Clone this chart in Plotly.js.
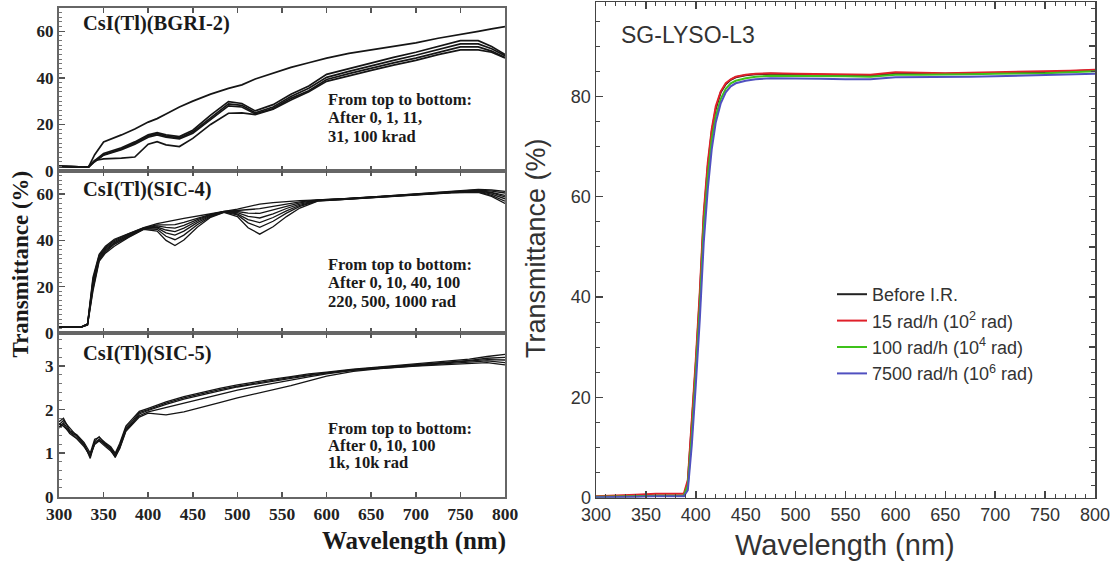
<!DOCTYPE html>
<html>
<head>
<meta charset="utf-8">
<script src="https://cdn.plot.ly/plotly-3.0.1.min.js"></script>
<style>
html,body{margin:0;padding:0;background:#fff;}
#chart{width:1112px;height:561px;}
</style>
</head>
<body>
<div id="chart"></div>
<script>
// ---------------- DATA ----------------
// Panel 1: CsI(Tl)(BGRI-2), doses in krad
const wlBGRI = [300, 320, 333, 340, 350, 370, 385, 400, 410, 420, 435, 450, 470, 490, 505, 520, 540, 560, 580, 600, 625, 650, 675, 700, 725, 750, 770, 785, 800];
const bgri_0krad   = [2.0, 1.8, 1.7, 7.0, 12.5, 15.5, 18.0, 21.0, 22.5, 24.5, 27.5, 30.0, 33.0, 35.5, 37.0, 39.5, 42.0, 44.5, 46.5, 48.5, 50.5, 52.0, 53.5, 55.0, 57.0, 58.5, 60.0, 61.0, 62.0];
const bgri_1krad   = [2.0, 1.8, 1.7, 4.5, 7.5, 10.0, 12.5, 15.5, 16.5, 15.5, 14.8, 17.5, 24.0, 29.8, 29.0, 25.8, 28.5, 33.0, 36.5, 41.5, 44.0, 46.5, 48.8, 51.0, 53.5, 56.0, 56.0, 53.5, 50.0];
const bgri_11krad  = [2.0, 1.8, 1.7, 4.2, 7.0, 9.5, 12.0, 15.0, 16.0, 15.0, 14.2, 16.8, 23.0, 28.8, 28.2, 25.0, 27.5, 32.0, 35.5, 40.2, 42.8, 45.3, 47.5, 49.7, 52.2, 54.6, 54.6, 52.5, 49.5];
const bgri_31krad  = [2.0, 1.8, 1.7, 4.0, 6.8, 9.2, 11.5, 14.5, 15.5, 14.5, 13.8, 16.2, 22.3, 28.0, 27.5, 24.5, 26.8, 31.2, 34.5, 39.3, 41.8, 44.2, 46.4, 48.5, 51.0, 53.3, 53.3, 51.5, 48.8];
const bgri_100krad = [2.0, 1.8, 1.7, 4.5, 5.2, 5.5, 6.0, 11.5, 12.6, 11.2, 10.5, 14.0, 20.0, 24.8, 25.0, 24.2, 26.5, 30.5, 34.0, 38.5, 41.0, 43.2, 45.5, 47.5, 50.0, 52.0, 52.0, 51.0, 48.5];

// Panel 2: CsI(Tl)(SIC-4), doses in rad
const wlSIC4 = [300, 325, 332, 338, 345, 352, 362, 378, 395, 410, 420, 430, 440, 455, 470, 485, 500, 512, 525, 540, 555, 570, 590, 620, 660, 700, 740, 770, 785, 800];
const sic4_0rad    = [2.7, 2.7, 4.0, 24.0, 34.0, 37.5, 40.5, 43.0, 45.5, 47.3, 48.2, 48.8, 49.5, 50.6, 51.6, 52.5, 53.5, 54.6, 55.7, 56.3, 56.8, 57.2, 57.5, 58.0, 59.0, 60.0, 61.0, 62.0, 61.8, 61.2];
const sic4_10rad   = [2.7, 2.7, 4.0, 23.0, 33.5, 37.0, 40.0, 42.8, 45.4, 46.7, 46.7, 46.8, 47.8, 49.7, 51.3, 52.5, 53.0, 53.2, 53.7, 54.7, 55.8, 56.7, 57.5, 58.0, 59.0, 60.0, 61.0, 61.8, 61.3, 60.5];
const sic4_40rad   = [2.6, 2.6, 3.8, 22.0, 33.0, 36.5, 39.5, 42.5, 45.3, 46.3, 45.6, 45.3, 46.5, 49.0, 51.1, 52.4, 52.5, 51.8, 51.7, 53.1, 54.8, 56.2, 57.4, 57.9, 58.9, 59.9, 60.9, 61.6, 60.8, 59.5];
const sic4_100rad  = [2.6, 2.6, 3.8, 21.0, 32.5, 36.0, 39.0, 42.2, 45.2, 45.8, 44.5, 43.8, 45.3, 48.4, 50.9, 52.4, 52.0, 50.4, 49.7, 51.5, 53.8, 55.7, 57.3, 57.9, 58.9, 59.9, 60.8, 61.4, 60.5, 58.8];
const sic4_220rad  = [2.6, 2.6, 3.6, 20.0, 32.0, 35.5, 38.8, 42.0, 45.1, 45.4, 43.3, 42.3, 44.0, 47.7, 50.6, 52.3, 51.5, 49.0, 47.7, 49.9, 52.8, 55.2, 57.2, 57.8, 58.8, 59.8, 60.8, 61.2, 60.0, 58.0];
const sic4_500rad  = [2.5, 2.5, 3.5, 19.0, 31.5, 35.0, 38.3, 41.7, 45.0, 44.8, 41.8, 40.3, 42.3, 46.8, 50.3, 52.2, 51.0, 47.6, 45.7, 48.3, 51.8, 54.7, 57.1, 57.8, 58.8, 59.8, 60.7, 61.0, 59.5, 57.0];
const sic4_1000rad = [2.5, 2.5, 3.4, 18.0, 31.0, 34.5, 37.5, 41.3, 44.8, 44.0, 40.0, 37.8, 40.2, 45.7, 50.0, 52.1, 50.3, 45.5, 42.7, 45.9, 50.3, 54.0, 57.0, 57.7, 58.7, 59.7, 60.6, 60.8, 59.0, 56.0];

// Panel 3: CsI(Tl)(SIC-5), doses in rad
const wlSIC5 = [300, 305, 312, 320, 328, 335, 340, 345, 352, 358, 363, 368, 375, 383, 390, 400, 420, 440, 460, 480, 500, 520, 540, 560, 580, 600, 630, 660, 700, 730, 760, 780, 800];
const sic5_0rad   = [1.72, 1.80, 1.52, 1.42, 1.25, 1.00, 1.32, 1.36, 1.24, 1.15, 1.00, 1.22, 1.62, 1.80, 1.96, 2.03, 2.18, 2.30, 2.40, 2.49, 2.57, 2.64, 2.70, 2.76, 2.82, 2.86, 2.93, 2.98, 3.05, 3.10, 3.16, 3.22, 3.27];
const sic5_10rad  = [1.65, 1.75, 1.58, 1.38, 1.20, 0.92, 1.28, 1.38, 1.20, 1.10, 0.95, 1.18, 1.58, 1.76, 1.93, 2.00, 2.15, 2.27, 2.37, 2.46, 2.54, 2.61, 2.68, 2.74, 2.80, 2.85, 2.92, 2.97, 3.03, 3.08, 3.13, 3.18, 3.20];
const sic5_100rad = [1.60, 1.70, 1.50, 1.35, 1.18, 0.95, 1.22, 1.30, 1.22, 1.12, 0.98, 1.15, 1.55, 1.72, 1.90, 1.98, 2.12, 2.24, 2.34, 2.43, 2.52, 2.59, 2.66, 2.72, 2.78, 2.84, 2.91, 2.96, 3.02, 3.06, 3.11, 3.15, 3.14];
const sic5_1krad  = [1.68, 1.62, 1.48, 1.40, 1.22, 0.88, 1.25, 1.32, 1.18, 1.08, 0.90, 1.12, 1.52, 1.70, 1.86, 1.95, 2.05, 2.15, 2.26, 2.36, 2.45, 2.53, 2.61, 2.68, 2.75, 2.82, 2.90, 2.95, 3.01, 3.05, 3.09, 3.12, 3.08];
const sic5_10krad = [1.58, 1.66, 1.45, 1.33, 1.15, 0.94, 1.20, 1.28, 1.15, 1.05, 0.92, 1.10, 1.50, 1.68, 1.83, 1.92, 1.88, 1.95, 2.05, 2.16, 2.27, 2.36, 2.45, 2.55, 2.66, 2.77, 2.88, 2.94, 3.00, 3.03, 3.06, 3.08, 3.03];

// Panel 4: SG-LYSO-L3
const wlLYSO = [300, 320, 340, 360, 380, 388, 392, 396, 400, 404, 408, 412, 416, 420, 425, 430, 435, 440, 450, 460, 475, 500, 525, 550, 575, 600, 625, 650, 675, 700, 725, 750, 775, 800];
const lyso_before = [0.2, 0.2, 0.3, 0.4, 0.4, 0.4, 3.0, 14.0, 26.5, 40.0, 56.0, 66.0, 73.0, 77.5, 80.8, 82.4, 83.3, 83.8, 84.2, 84.4, 84.5, 84.4, 84.3, 84.2, 84.1, 84.6, 84.5, 84.5, 84.6, 84.6, 84.7, 84.8, 85.0, 85.2];
const lyso_15radh = [0.3, 0.4, 0.6, 0.8, 0.8, 0.8, 3.5, 15.0, 27.5, 41.0, 57.0, 66.8, 73.5, 78.0, 81.0, 82.6, 83.4, 83.9, 84.3, 84.5, 84.6, 84.5, 84.4, 84.3, 84.3, 84.8, 84.7, 84.6, 84.7, 84.8, 84.8, 84.9, 85.1, 85.3];
const lyso_100radh = [0.2, 0.2, 0.3, 0.4, 0.4, 0.4, 2.5, 12.5, 25.0, 38.0, 54.0, 64.0, 71.5, 76.0, 79.5, 81.5, 82.6, 83.1, 83.6, 83.9, 84.1, 84.1, 84.0, 84.0, 83.9, 84.3, 84.3, 84.3, 84.4, 84.5, 84.5, 84.6, 84.8, 85.0];
const lyso_7500radh = [0.1, 0.1, 0.2, 0.3, 0.3, 0.3, 1.5, 10.5, 22.5, 35.5, 51.0, 61.5, 69.5, 74.8, 78.6, 80.8, 82.0, 82.6, 83.1, 83.4, 83.6, 83.6, 83.5, 83.4, 83.4, 83.8, 83.8, 83.8, 83.9, 84.0, 84.1, 84.2, 84.3, 84.5];

const lysoNames = ['Before I.R.', '15 rad/h (10<sup>2</sup> rad)', '100 rad/h (10<sup>4</sup> rad)', '7500 rad/h (10<sup>6</sup> rad)'];
const lysoColors = ['#222222', '#e0202a', '#3ec21a', '#5050c0'];

const panelTitles = ['CsI(Tl)(BGRI-2)', 'CsI(Tl)(SIC-4)', 'CsI(Tl)(SIC-5)'];
const noteLines = [
  ['From top to bottom:', 'After 0, 1, 11,', '31, 100 krad'],
  ['From top to bottom:', 'After 0, 10, 40, 100', '220, 500, 1000 rad'],
  ['From top to bottom:', 'After 0, 10, 100', '1k, 10k rad']
];

// ---------------- TRACES ----------------
const SERIF = 'Liberation Serif, Times New Roman, serif';
const SANS = 'Liberation Sans, Arial, sans-serif';
const traces = [];
function addLeft(x, ys, xa, ya, w) {
  ys.forEach(y => traces.push({x: x, y: y, xaxis: xa, yaxis: ya, type: 'scatter', mode: 'lines',
    line: {color: '#151515', width: w}, showlegend: false, hoverinfo: 'skip'}));
}
addLeft(wlBGRI, [bgri_0krad, bgri_1krad, bgri_11krad, bgri_31krad, bgri_100krad], 'x', 'y', 1.7);
addLeft(wlSIC4, [sic4_0rad, sic4_10rad, sic4_40rad, sic4_100rad, sic4_220rad, sic4_500rad, sic4_1000rad], 'x2', 'y2', 1.3);
addLeft(wlSIC5, [sic5_0rad, sic5_10rad, sic5_100rad, sic5_1krad, sic5_10krad], 'x3', 'y3', 1.3);

[lyso_before, lyso_15radh, lyso_100radh, lyso_7500radh].forEach((y, i) => traces.push({
  x: wlLYSO, y: y, xaxis: 'x4', yaxis: 'y4', type: 'scatter', mode: 'lines',
  name: lysoNames[i], line: {color: lysoColors[i], width: 2}, showlegend: true
}));
// right-side tick axis carrier
traces.push({x: [300], y: [0], xaxis: 'x4', yaxis: 'y5', mode: 'markers', marker: {opacity: 0}, showlegend: false, hoverinfo: 'skip'});

// ---------------- LAYOUT ----------------
const W = 1112, H = 561;
const px = v => v / W, py = v => 1 - v / H;
const leftDom = [px(59), px(505)];

function leftX(anchor, labels) {
  return {domain: leftDom, anchor: anchor, range: [300, 800], dtick: 50, tick0: 300,
    ticks: 'inside', ticklen: 5, tickwidth: 1.5, tickcolor: '#555', showline: true, linecolor: '#666', linewidth: 2,
    mirror: 'ticks', showgrid: false, zeroline: false, showticklabels: labels,
    tickfont: {family: SERIF, size: 17.5, color: '#222', weight: 'bold'}};
}
function leftY(anchor, dom, range, dtick, minor) {
  return {domain: dom, anchor: anchor, range: range, dtick: dtick, tick0: 0,
    ticks: 'inside', ticklen: 6, tickwidth: 1.5, tickcolor: '#555', showline: true, linecolor: '#666', linewidth: 2,
    mirror: true, showgrid: false, zeroline: false,
    minor: {dtick: minor, ticks: 'inside', ticklen: 3, tickcolor: '#777', tickwidth: 1},
    tickfont: {family: SERIF, size: 17, color: '#222', weight: 'bold'}};
}

const annotations = [];
const titleY = [24, 189, 353];
panelTitles.forEach((t, i) => annotations.push({text: t, xref: 'paper', yref: 'paper', x: px(81), y: py(titleY[i]),
  xanchor: 'left', yanchor: 'middle', showarrow: false, font: {family: SERIF, size: 20.5, color: '#1a1a1a', weight: 'bold'}}));
const noteY = [[100, 117.5, 137], [264, 282.7, 301.7], [428, 445, 462.7]];
noteLines.forEach((lines, i) => lines.forEach((t, j) => annotations.push({text: t, xref: 'paper', yref: 'paper',
  x: px(326), y: py(noteY[i][j]), xanchor: 'left', yanchor: 'middle', showarrow: false,
  font: {family: SERIF, size: 16.5, color: '#1a1a1a', weight: 'bold'}})));
annotations.push({text: 'Transmittance (%)', xref: 'paper', yref: 'paper', x: px(19.5), y: py(264), textangle: -90,
  xanchor: 'center', yanchor: 'middle', showarrow: false, font: {family: SERIF, size: 23, color: '#1a1a1a', weight: 'bold'}});
annotations.push({text: 'Wavelength (nm)', xref: 'paper', yref: 'paper', x: px(413.5), y: py(541),
  xanchor: 'center', yanchor: 'middle', showarrow: false, font: {family: SERIF, size: 25, color: '#1a1a1a', weight: 'bold'}});
annotations.push({text: 'SG-LYSO-L3', xref: 'paper', yref: 'paper', x: px(619), y: py(35),
  xanchor: 'left', yanchor: 'middle', showarrow: false, font: {family: SANS, size: 23, color: '#333'}});
annotations.push({text: 'Transmittance (%)', xref: 'paper', yref: 'paper', x: px(536), y: py(248), textangle: -90,
  xanchor: 'center', yanchor: 'middle', showarrow: false, font: {family: SANS, size: 27, color: '#333'}});
annotations.push({text: 'Wavelength (nm)', xref: 'paper', yref: 'paper', x: px(845), y: py(545),
  xanchor: 'center', yanchor: 'middle', showarrow: false, font: {family: SANS, size: 29, color: '#333'}});

const rightDom = [px(596), px(1095)];
const rightYDom = [py(497.7), py(2)];
const layout = {
  width: W, height: H, margin: {l: 0, r: 0, t: 0, b: 0},
  paper_bgcolor: '#fff', plot_bgcolor: 'rgba(0,0,0,0)',
  showlegend: true,
  xaxis: leftX('y', false),
  yaxis: leftY('x', [py(171), py(8)], [0, 70], 20, 2),
  xaxis2: leftX('y2', false),
  yaxis2: leftY('x2', [py(333), py(171)], [0, 70], 20, 2),
  xaxis3: leftX('y3', true),
  yaxis3: leftY('x3', [py(496.7), py(333)], [0, 3.76], 1, 0.2),
  xaxis4: {domain: rightDom, anchor: 'y4', range: [300, 800], dtick: 50, tick0: 300,
    ticks: 'inside', ticklen: 7, tickwidth: 1.5, tickcolor: '#444', showline: true, linecolor: '#444', linewidth: 1.5,
    mirror: 'ticks', showgrid: false, zeroline: false,
    minor: {dtick: 10, ticks: 'inside', ticklen: 4, tickcolor: '#444', tickwidth: 1},
    tickfont: {family: SANS, size: 18, color: '#333'}},
  yaxis4: {domain: rightYDom, anchor: 'x4', range: [0, 98.8], dtick: 20, tick0: 0,
    ticks: 'inside', ticklen: 7, tickwidth: 1.5, tickcolor: '#444', showline: true, linecolor: '#444', linewidth: 1.5,
    mirror: true, showgrid: false, zeroline: false,
    minor: {dtick: 5, ticks: 'inside', ticklen: 4, tickcolor: '#444', tickwidth: 1},
    tickfont: {family: SANS, size: 18, color: '#333'}},
  yaxis5: {overlaying: 'y4', side: 'right', anchor: 'x4', range: [0, 98.8], dtick: 10, tick0: 0,
    ticks: 'inside', ticklen: 6, tickwidth: 1.5, tickcolor: '#444', showline: false, showgrid: false, zeroline: false,
    showticklabels: false,
    minor: {dtick: 2.5, ticks: 'inside', ticklen: 4, tickcolor: '#444', tickwidth: 1}},
  legend: {x: px(832), y: py(276), xanchor: 'left', yanchor: 'top', bgcolor: 'rgba(0,0,0,0)',
    font: {family: SANS, size: 18, color: '#333'}, itemwidth: 30, tracegroupgap: 0},
  annotations: annotations
};

Plotly.newPlot('chart', traces, layout, {displayModeBar: false, staticPlot: true});
</script>
</body>
</html>
